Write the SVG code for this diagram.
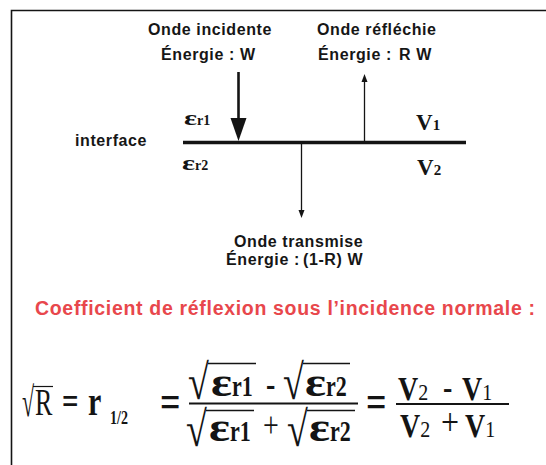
<svg xmlns="http://www.w3.org/2000/svg" width="546" height="465" viewBox="0 0 546 465">
<style>
.s{font-family:"Liberation Sans",Arial,sans-serif;font-weight:bold;font-size:16px;fill:#161616;letter-spacing:0.6px}
.t{font-family:"Liberation Sans",Arial,sans-serif;font-weight:bold;font-size:19.5px;fill:#e8474c}
.m{font-family:"Liberation Serif","Times New Roman",serif;fill:#141414}
.b{font-weight:bold}
.ln{stroke:#141414;fill:none}
</style>
<rect width="546" height="465" fill="#fff"/>
<g id="frame"><path class="ln" stroke-width="1.6" d="M11.5 465V10.5H546"/></g>
<g id="connectors">
<line class="ln" x1="183" y1="142.5" x2="466" y2="142.5" stroke-width="3.5"/>
<line class="ln" x1="238.5" y1="72" x2="238.5" y2="122" stroke-width="2.6"/>
<polygon points="230.5,118 246.5,118 238.5,141" fill="#141414"/>
<line class="ln" x1="364.5" y1="142" x2="364.5" y2="80" stroke-width="1.3"/>
<polygon points="361.5,82 367.5,82 364.5,74" fill="#141414"/>
<line class="ln" x1="301.5" y1="143" x2="301.5" y2="212" stroke-width="1.3"/>
<polygon points="298.5,210 304.5,210 301.5,218" fill="#141414"/>
</g>
<g id="incident"><text class="s" x="148" y="35">Onde incidente</text><text class="s" y="60"><tspan x="161">Énergie :</tspan><tspan x="240">W</tspan></text></g>
<g id="reflected"><text class="s" x="317" y="35">Onde réfléchie</text><text class="s" y="60"><tspan x="318">Énergie :</tspan><tspan x="399">R W</tspan></text></g>
<g id="interface"><text class="s" x="75" y="146">interface</text></g>
<g id="medium1"><text class="m b" x="184" y="125"><tspan font-size="20" textLength="13" lengthAdjust="spacingAndGlyphs">ε</tspan><tspan font-size="14">r1</tspan></text><text class="m b" x="416" y="130"><tspan font-size="23">V</tspan><tspan font-size="15">1</tspan></text></g>
<g id="medium2"><text class="m b" x="182" y="170"><tspan font-size="20" textLength="13" lengthAdjust="spacingAndGlyphs">ε</tspan><tspan font-size="14">r2</tspan></text><text class="m b" x="417" y="175"><tspan font-size="23">V</tspan><tspan font-size="15">2</tspan></text></g>
<g id="transmitted"><text class="s" x="234" y="247">Onde transmise</text><text class="s" y="265"><tspan x="226">Énergie :</tspan><tspan x="303">(1-R) W</tspan></text></g>
<g id="title"><text class="t" x="35" y="315" textLength="500" lengthAdjust="spacing">Coefficient de réflexion sous l’incidence normale :</text></g>
<g id="formula">
<text class="m" transform="translate(22,416) scale(1,1.9)" font-size="22">√</text>
<line class="ln" x1="33" y1="386.5" x2="53" y2="386.5" stroke-width="1.2"/>
<text class="m" transform="translate(35,415) scale(1,1.45)" font-size="26">R</text>
<text class="m b" transform="translate(62,414) scale(1,1.3)" font-size="29">=</text>
<text class="m b" transform="translate(88,415) scale(1,1.3)" font-size="30">r</text>
<text class="m b" transform="translate(110,424) scale(1,1.3)" font-size="14">1/2</text>
<text class="m b" transform="translate(160,417) scale(1,1.3)" font-size="36">=</text>
<line class="ln" x1="189" y1="403.5" x2="358" y2="403.5" stroke-width="1.8"/>
<text class="m" transform="translate(188,399) scale(1,1.3)" font-size="38">√</text>
<line class="ln" x1="208" y1="363.5" x2="256" y2="363.5" stroke-width="1.3"/>
<text class="m b" transform="translate(211,396) scale(1,1.3)"><tspan font-size="30" textLength="21" lengthAdjust="spacingAndGlyphs">ε</tspan><tspan font-size="22">r1</tspan></text>
<text class="m b" transform="translate(266,396) scale(1,1.3)" font-size="28">-</text>
<text class="m" transform="translate(283,399) scale(1,1.3)" font-size="38">√</text>
<line class="ln" x1="303" y1="363.5" x2="350" y2="363.5" stroke-width="1.3"/>
<text class="m b" transform="translate(305,396) scale(1,1.3)"><tspan font-size="30" textLength="21" lengthAdjust="spacingAndGlyphs">ε</tspan><tspan font-size="22">r2</tspan></text>
<text class="m" transform="translate(186,446) scale(1,1.3)" font-size="38">√</text>
<line class="ln" x1="206" y1="410.5" x2="254" y2="410.5" stroke-width="1.3"/>
<text class="m b" transform="translate(209,441) scale(1,1.3)"><tspan font-size="30" textLength="21" lengthAdjust="spacingAndGlyphs">ε</tspan><tspan font-size="22">r1</tspan></text>
<text class="m" transform="translate(263,437) scale(1,1.3)" font-size="28">+</text>
<text class="m" transform="translate(287,446) scale(1,1.3)" font-size="38">√</text>
<line class="ln" x1="307" y1="410.5" x2="355" y2="410.5" stroke-width="1.3"/>
<text class="m b" transform="translate(309,441) scale(1,1.3)"><tspan font-size="30" textLength="21" lengthAdjust="spacingAndGlyphs">ε</tspan><tspan font-size="22">r2</tspan></text>
<text class="m b" transform="translate(366,417) scale(1,1.3)" font-size="36">=</text>
<line class="ln" x1="396" y1="404" x2="509" y2="404" stroke-width="1.8"/>
<text class="m b" transform="translate(398,400) scale(1,1.2)"><tspan font-size="28">V</tspan><tspan font-size="20" font-weight="normal">2</tspan></text>
<text class="m b" transform="translate(443,399) scale(1,1.2)" font-size="28">-</text>
<text class="m b" transform="translate(462,400) scale(1,1.2)"><tspan font-size="28">V</tspan><tspan font-size="20" font-weight="normal">1</tspan></text>
<text class="m b" transform="translate(400,437) scale(1,1.2)"><tspan font-size="28">V</tspan><tspan font-size="20" font-weight="normal">2</tspan></text>
<text class="m" transform="translate(441,435) scale(1,1.2)" font-size="32">+</text>
<text class="m b" transform="translate(465,437) scale(1,1.2)"><tspan font-size="28">V</tspan><tspan font-size="20" font-weight="normal">1</tspan></text>
</g>
</svg>
